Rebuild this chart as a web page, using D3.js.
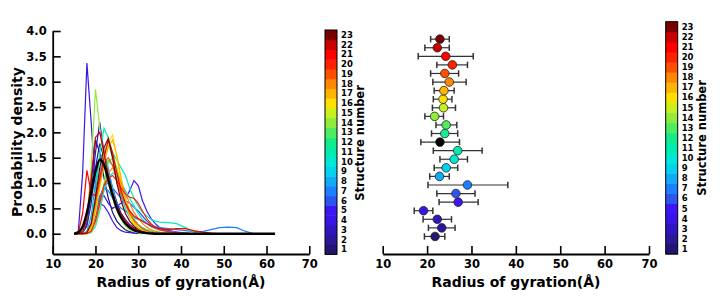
<!DOCTYPE html>
<html>
<head>
<meta charset="utf-8">
<script src="https://cdn.jsdelivr.net/npm/d3@7"></script>
<style>
  body { margin: 0; background: #fff; }
  text { font-family: "DejaVu Sans", sans-serif; font-weight: bold; }
</style>
</head>
<body>
<div id="chart"></div>
<script>
// structure numbers and the colour of each one (colour bar, bottom to top)
var structures = [1, 2, 3, 4, 5, 6, 7, 8, 9, 10, 11, 12, 13, 14, 15, 16, 17, 18, 19, 20, 21, 22, 23];
var structColors = ["#241470", "#2a1898", "#3016c0", "#3a14e6", "#3d16f4", "#2f55f0", "#1a80ff", "#10aaf8",
    "#00d2f0", "#00e8d6", "#00ecb0", "#14ec8c", "#50ec60", "#90ec3c", "#c8f01c", "#ffe000", "#ffb400",
    "#ff8800", "#ff5000", "#ff2200", "#ff0000", "#cc0000", "#7a0000"];

// Rg grid (Å) shared by all density curves
var rgGrid = [15, 16, 17, 18, 19, 20, 21, 22, 23, 24, 25, 26, 27, 28, 29, 30, 31, 32, 33, 34, 35,
    37, 39, 41, 43, 45, 47, 49, 51, 53, 55, 57, 60, 62];

// probability density of each structure on rgGrid (curve stops where its list stops)
var density1 = [0, 0, 0.05, 0.3, 1.0, 1.85, 1.6, 1.1, 0.7, 0.42, 0.25, 0.15, 0.08, 0.04, 0.02, 0.01, 0];
var density2 = [0, 0, 0.02, 0.15, 0.6, 1.3, 1.78, 1.5, 1.2, 0.9, 0.62, 0.4, 0.28, 0.18, 0.12, 0.08, 0.05, 0.03, 0.02, 0.01, 0];
var density3 = [0, 0, 0.02, 0.2, 0.8, 1.6, 2.2, 1.6, 1.0, 0.72, 0.5, 0.35, 0.22, 0.14, 0.08, 0.05, 0.03, 0.02, 0.01, 0];
var density4 = [0, 0.05, 1.2, 3.37, 2.2, 0.9, 0.6, 0.55, 0.42, 0.25, 0.12, 0.06, 0.03, 0.02, 0.01, 0];
var density5 = [0, 0, 0, 0.02, 0.1, 0.35, 0.7, 0.75, 0.6, 0.5, 0.55, 0.6, 0.7, 0.85, 1.05, 0.95, 0.65, 0.45, 0.3, 0.2, 0.12, 0.06, 0.03, 0.01, 0];
var density6 = [0, 0, 0, 0.02, 0.1, 0.35, 0.7, 0.95, 1.0, 0.9, 0.8, 0.7, 0.65, 0.6, 0.52, 0.45, 0.35, 0.25, 0.18, 0.13, 0.1, 0.06, 0.03, 0.01, 0];
var density7 = [0, 0, 0, 0.02, 0.12, 0.4, 0.75, 0.9, 0.85, 0.7, 0.6, 0.5, 0.45, 0.38, 0.32, 0.28, 0.24, 0.2, 0.17, 0.14, 0.12,
    0.1, 0.08, 0.06, 0.04, 0.04, 0.08, 0.12, 0.13, 0.12, 0.05, 0];
var density8 = [0, 0, 0, 0.05, 0.35, 1.0, 1.5, 1.6, 1.3, 0.9, 0.55, 0.3, 0.18, 0.1, 0.05, 0.02, 0.01, 0];
var density9 = [0, 0, 0, 0.02, 0.15, 0.6, 1.2, 1.6, 1.8, 1.5, 1.1, 0.75, 0.5, 0.32, 0.2, 0.12, 0.07, 0.04, 0.02, 0.01, 0];
var density10 = [0, 0, 0, 0, 0.03, 0.15, 0.45, 0.85, 1.1, 1.2, 1.15, 1.0, 0.85, 0.7, 0.55, 0.4, 0.28, 0.2, 0.14, 0.1, 0.07,
    0.04, 0.02, 0.01, 0];
var density11 = [0, 0, 0, 0.02, 0.2, 0.8, 1.6, 2.08, 1.9, 1.6, 1.45, 1.3, 1.15, 0.9, 0.7, 0.55, 0.42, 0.35, 0.28, 0.25, 0.23,
    0.22, 0.2, 0.12, 0.03, 0];
var density12 = [0, 0, 0, 0.03, 0.15, 0.5, 0.95, 1.3, 1.45, 1.35, 1.1, 0.85, 0.6, 0.42, 0.28, 0.18, 0.12, 0.08, 0.05, 0.03, 0.02, 0.01, 0];
var density13 = [0, 0, 0, 0, 0.02, 0.15, 0.5, 1.0, 1.4, 1.5, 1.3, 1.0, 0.7, 0.45, 0.3, 0.18, 0.1, 0.06, 0.03, 0.01, 0];
var density14 = [0, 0, 0.02, 0.3, 1.3, 2.85, 2.1, 1.4, 1.0, 0.7, 0.45, 0.28, 0.15, 0.08, 0.04, 0.02, 0];
var density15 = [0, 0, 0, 0.02, 0.15, 0.5, 1.0, 1.5, 1.75, 1.6, 1.25, 0.9, 0.6, 0.38, 0.22, 0.12, 0.06, 0.03, 0.01, 0];
var density16 = [0, 0, 0, 0.02, 0.1, 0.4, 0.9, 1.4, 1.8, 1.95, 1.5, 1.0, 0.6, 0.35, 0.18, 0.08, 0.04, 0.01, 0];
var density17 = [0, 0, 0, 0.02, 0.12, 0.45, 0.95, 1.4, 1.7, 1.85, 1.55, 1.1, 0.7, 0.42, 0.24, 0.12, 0.06, 0.03, 0.01, 0];
var density18 = [0, 0, 0, 0, 0.05, 0.25, 0.6, 0.95, 1.2, 1.3, 1.2, 1.0, 0.8, 0.6, 0.42, 0.3, 0.2, 0.13, 0.08, 0.05, 0.03, 0.01, 0];
var density19 = [0, 0, 0, 0.03, 0.2, 0.6, 1.05, 1.4, 1.5, 1.35, 1.05, 0.8, 0.58, 0.4, 0.27, 0.17, 0.1, 0.06, 0.03, 0.01, 0];
var density20 = [0, 0, 0, 0, 0.05, 0.25, 0.6, 0.95, 1.1, 1.15, 1.05, 0.9, 0.78, 0.72, 0.7, 0.6, 0.45, 0.3, 0.2, 0.12, 0.08,
    0.04, 0.02, 0.01, 0];
var density21 = [0, 0.02, 0.4, 1.25, 0.8, 0.75, 1.1, 1.5, 1.85, 1.6, 1.2, 0.85, 0.6, 0.45, 0.35, 0.3, 0.25, 0.2, 0.15, 0.12, 0.1,
    0.08, 0.1, 0.1, 0.06, 0.03, 0.01, 0];
var density22 = [0, 0, 0.03, 0.3, 1.1, 1.9, 2.0, 1.6, 1.15, 0.8, 0.55, 0.38, 0.25, 0.16, 0.1, 0.06, 0.03, 0.01, 0];
var density23 = [0, 0, 0, 0.02, 0.2, 0.7, 1.3, 1.7, 1.88, 1.5, 1.0, 0.65, 0.4, 0.25, 0.15, 0.08, 0.04, 0.02, 0];
// average distribution (black curve)
var densityAll = [0, 0.03, 0.14, 0.42, 0.82, 1.22, 1.46, 1.36, 1.06, 0.76, 0.5, 0.32, 0.2, 0.12, 0.07, 0.04, 0.025, 0.012, 0.005, 0, 0,
    0, 0, 0, 0, 0, 0, 0, 0, 0, 0, 0, 0, 0];

var densities = [density1, density2, density3, density4, density5, density6, density7, density8, density9, density10,
    density11, density12, density13, density14, density15, density16, density17, density18, density19, density20,
    density21, density22, density23];

// mean Rg and error-bar ends per structure (right panel), plus the overall average row
var rgMean = [21.8, 23.3, 22.3, 19.2, 27.0, 26.5, 29.1, 22.8, 24.3, 26.1, 26.9, 24.0, 24.3, 21.7, 23.7, 23.6, 23.8, 25.0, 24.0, 25.7, 24.2, 22.3, 22.9];
var rgLow = [19.4, 20.3, 19.1, 17.1, 22.7, 22.2, 20.2, 20.6, 21.6, 22.9, 21.4, 21.0, 22.0, 19.5, 21.2, 21.4, 21.6, 21.3, 20.8, 22.2, 18.0, 19.5, 20.8];
var rgHigh = [24.0, 26.3, 25.5, 21.3, 31.5, 30.8, 38.2, 25.0, 26.9, 29.1, 32.4, 26.9, 26.7, 23.7, 26.4, 25.6, 26.1, 28.8, 27.1, 29.1, 30.4, 25.0, 25.0];
var avgRg = { mean: 22.9, low: 18.6, high: 27.3 };

var xTicks = [10, 20, 30, 40, 50, 60, 70];
var yTicks = [0.0, 0.5, 1.0, 1.5, 2.0, 2.5, 3.0, 3.5, 4.0];

var svg = d3.select("#chart").append("svg")
    .attr("width", 720)
    .attr("height", 307)
    .style("background", "#fff");

function styleAxis(g) {
    g.select(".domain").attr("stroke", "#000").attr("stroke-width", 1.8);
    g.selectAll(".tick line").attr("stroke", "#000").attr("stroke-width", 1.6);
    g.selectAll(".tick text").attr("fill", "#000").style("font-size", "11.5px")
        .style("font-family", "DejaVu Sans").style("font-weight", "bold");
}

function colorBar(left, top, bottom) {
    var band = d3.scaleBand().domain(structures.slice().reverse()).range([top, bottom]);
    var g = svg.append("g");
    g.selectAll("rect.seg")
        .data(structures)
        .enter()
        .append("rect")
        .attr("x", left)
        .attr("y", d => band(d))
        .attr("width", 12)
        .attr("height", band.bandwidth() + 0.5)
        .attr("fill", (d, i) => structColors[i]);
    g.append("rect")
        .attr("x", left).attr("y", top)
        .attr("width", 12).attr("height", bottom - top)
        .attr("fill", "none").attr("stroke", "#000").attr("stroke-width", 1);
    g.selectAll("text")
        .data(structures)
        .enter()
        .append("text")
        .attr("x", left + 16)
        .attr("y", d => band(d) + band.bandwidth() / 2)
        .attr("dy", "0.35em")
        .style("font-size", "8.5px")
        .text(d => d);
}

// ---------- left panel: density curves ----------
var x1 = d3.scaleLinear().domain([10, 70]).range([52.7, 309.3]);
var y1 = d3.scaleLinear().domain([-0.4, 4.0]).range([254, 31]);

var line = d3.line()
    .x((d, i) => x1(rgGrid[i]))
    .y(d => y1(d));

svg.append("g")
    .selectAll("path")
    .data(densities)
    .enter()
    .append("path")
    .attr("d", d => line(d))
    .attr("fill", "none")
    .attr("stroke", (d, i) => structColors[i])
    .attr("stroke-width", 1.2);

svg.append("path")
    .attr("d", d3.line().x((d, i) => x1(rgGrid[i])).y(d => y1(d)).curve(d3.curveMonotoneX)(densityAll))
    .attr("fill", "none")
    .attr("stroke", "#000")
    .attr("stroke-width", 2.4);

svg.append("g")
    .attr("transform", "translate(0,254)")
    .call(d3.axisBottom(x1).tickValues(xTicks).tickSizeInner(-8).tickSizeOuter(0).tickPadding(6))
    .call(styleAxis);

svg.append("g")
    .attr("transform", "translate(52.7,0)")
    .call(d3.axisLeft(y1).tickValues(yTicks).tickFormat(d3.format(".1f")).tickSizeInner(-8).tickSizeOuter(0).tickPadding(6))
    .call(styleAxis);

svg.append("text")
    .attr("x", 181).attr("y", 287)
    .attr("text-anchor", "middle")
    .style("font-size", "14px")
    .text("Radius of gyration(Å)");

svg.append("text")
    .attr("transform", "translate(22,142) rotate(-90)")
    .attr("text-anchor", "middle")
    .style("font-size", "14px")
    .text("Probability density");

colorBar(325, 30, 254.3);
svg.append("text")
    .attr("transform", "translate(364,143) rotate(-90)")
    .attr("text-anchor", "middle")
    .style("font-size", "11.5px")
    .text("Structure number");

// ---------- right panel: mean Rg with error bars ----------
var x2 = d3.scaleLinear().domain([10, 70]).range([382.7, 649]);
// rows: structures 1..11, the overall average, then 12..23
var rows = [];
structures.forEach(function (s, i) {
    rows.push({ mean: rgMean[i], low: rgLow[i], high: rgHigh[i], color: structColors[i] });
    if (s === 11) rows.push({ mean: avgRg.mean, low: avgRg.low, high: avgRg.high, color: "#000" });
});
var y2 = d3.scaleLinear().domain([-2, 25]).range([253.6, 22]);

var bars = svg.append("g")
    .selectAll("g")
    .data(rows)
    .enter()
    .append("g")
    .attr("stroke", "#333")
    .attr("stroke-width", 1.2);
bars.append("line")
    .attr("x1", d => x2(d.low)).attr("x2", d => x2(d.high))
    .attr("y1", (d, i) => y2(i)).attr("y2", (d, i) => y2(i));
bars.append("line")
    .attr("x1", d => x2(d.low)).attr("x2", d => x2(d.low))
    .attr("y1", (d, i) => y2(i) - 3.2).attr("y2", (d, i) => y2(i) + 3.2)
    .attr("stroke-width", 1.5);
bars.append("line")
    .attr("x1", d => x2(d.high)).attr("x2", d => x2(d.high))
    .attr("y1", (d, i) => y2(i) - 3.2).attr("y2", (d, i) => y2(i) + 3.2)
    .attr("stroke-width", 1.5);
bars.append("circle")
    .attr("cx", d => x2(d.mean))
    .attr("cy", (d, i) => y2(i))
    .attr("r", 4.3)
    .attr("fill", d => d.color)
    .attr("stroke", "#222")
    .attr("stroke-width", 0.8);

svg.append("g")
    .attr("transform", "translate(0,254)")
    .call(d3.axisBottom(x2).tickValues(xTicks).tickSizeInner(-8).tickSizeOuter(0).tickPadding(6))
    .call(styleAxis);

svg.append("text")
    .attr("x", 516).attr("y", 287)
    .attr("text-anchor", "middle")
    .style("font-size", "14px")
    .text("Radius of gyration(Å)");

colorBar(665.7, 21.7, 254);
svg.append("text")
    .attr("transform", "translate(706,138) rotate(-90)")
    .attr("text-anchor", "middle")
    .style("font-size", "11.5px")
    .text("Structure number");
</script>
</body>
</html>
